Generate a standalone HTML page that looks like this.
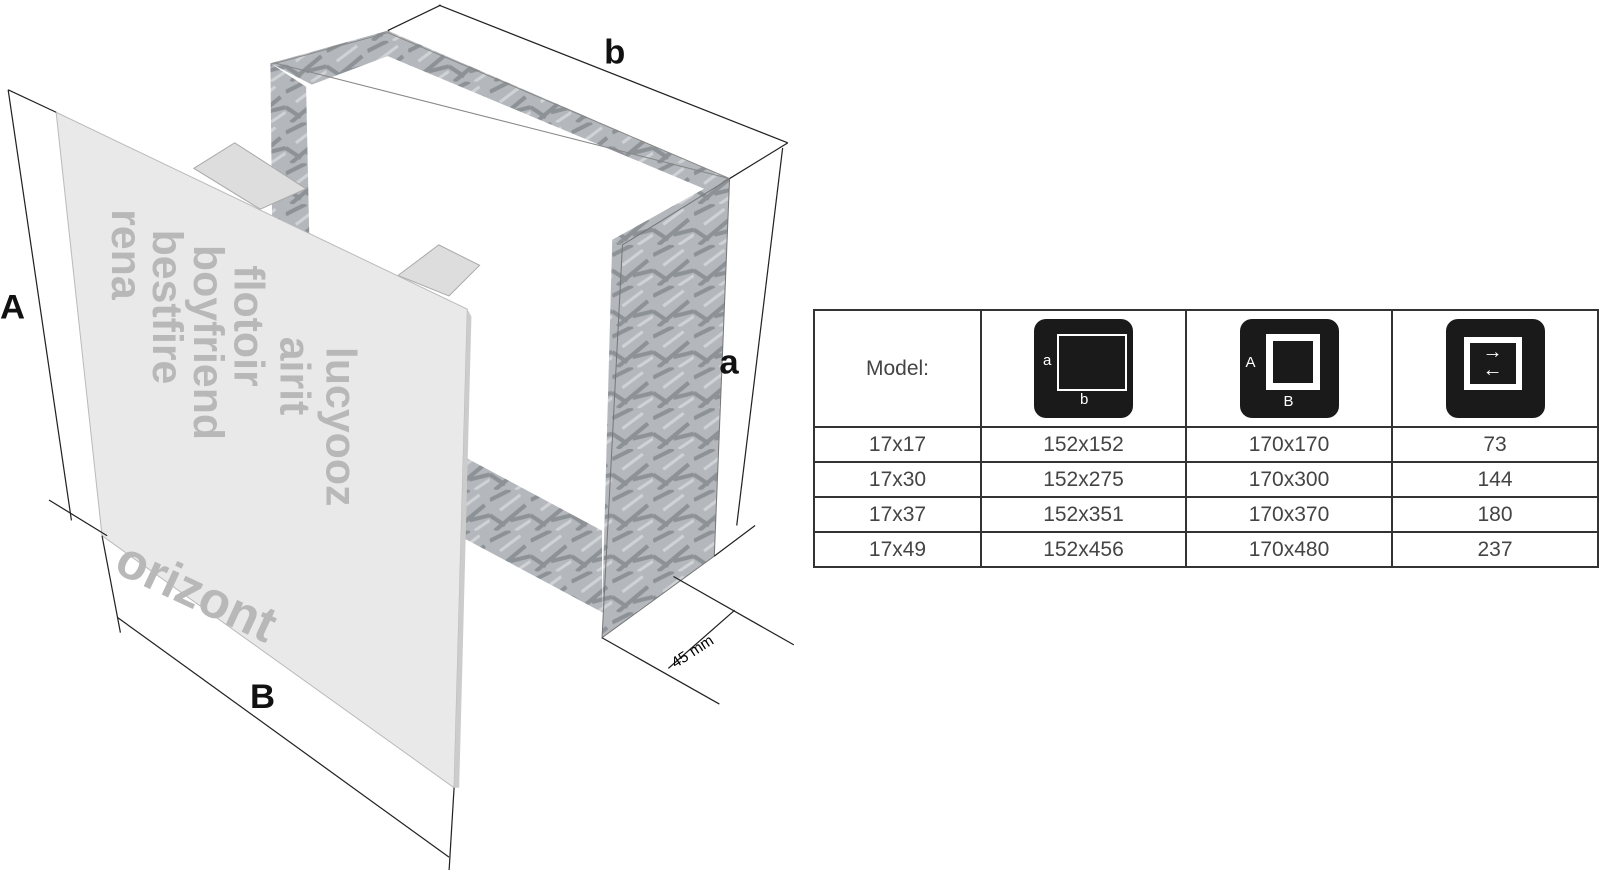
<!DOCTYPE html>
<html><head><meta charset="utf-8"><style>
body{margin:0;width:1600px;height:870px;background:#fff;overflow:hidden;font-family:"Liberation Sans",sans-serif}
svg{position:absolute;left:0;top:0}
table{position:absolute;left:813px;top:309px;border-collapse:collapse;width:786px}
td{border:2px solid #333;text-align:center;color:#444;font-size:21px;padding:0;height:33px}
.ic{width:99px;height:99px;background:#1a1a1a;border-radius:12px;margin:auto;position:relative}
</style></head><body>
<svg width="1600" height="870">
<defs><pattern id="g" width="40" height="40" patternUnits="userSpaceOnUse"><rect width="40" height="40" fill="#b4b8bc"/><path d="M0 10L20 0M5 40L35 15M20 30L40 25M0 25L15 35" stroke="#8d9297" stroke-width="4"/><path d="M10 20L30 5M25 40L40 30" stroke="#d0d3d6" stroke-width="3"/></pattern></defs>
<g transform="scale(1.0204)">
<polygon points="265,62 380,30 715,175 610,240" fill="url(#g)"/>
<polygon points="300,85 380,55 690,185 600,235" fill="#fff"/>
<polygon points="265,62 300,85 310,560 270,540" fill="url(#g)"/>
<polygon points="600,235 610,240 600,600 590,600" fill="url(#g)"/>
<polygon points="450,445 590,520 590,600 450,525" fill="url(#g)"/>
<polygon points="610,240 715,175 700,545 590,625" fill="url(#g)" stroke="#777"/>
<polygon points="270,62 380,32 715,175" fill="none" stroke="#888"/>
<polygon points="190,165 230,140 300,185 255,205" fill="#ddd" stroke="#aaa"/>
<polygon points="390,270 430,240 470,260 440,290" fill="#ddd" stroke="#aaa"/>
<polygon points="55,110 458,303 445,772 100,525" fill="#e9e9e9" stroke="#bbb"/>
<polygon points="458,303 462,310 450,772 445,772" fill="#ccc"/>
<g fill="#b8b8b8" font-weight="bold" font-family="Liberation Sans" font-size="42">
<text transform="translate(110,205) rotate(90)">rena</text>
<text transform="translate(150,225) rotate(90)">bestfire</text>
<text transform="translate(190,240) rotate(90)">boyfriend</text>
<text transform="translate(230,260) rotate(90)">flotoir</text>
<text transform="translate(275,330) rotate(90)">airit</text>
<text transform="translate(320,340) rotate(90)">lucyooz</text>
<text transform="translate(110,560) rotate(25)" font-size="50">orizont</text>
</g>
<g stroke="#222" stroke-width="1.2" fill="none">
<line x1="8" y1="88" x2="70" y2="510"/><line x1="8" y1="88" x2="55" y2="110"/><line x1="48" y1="490" x2="105" y2="525"/>
<line x1="430" y1="5" x2="772" y2="140"/><line x1="380" y1="30" x2="432" y2="5"/><line x1="715" y1="175" x2="772" y2="140"/>
<line x1="767" y1="145" x2="722" y2="515"/><line x1="700" y1="545" x2="740" y2="515"/>
<line x1="115" y1="605" x2="440" y2="840"/><line x1="100" y1="525" x2="118" y2="620"/><line x1="445" y1="772" x2="440" y2="855"/>
<line x1="660" y1="565" x2="778" y2="632"/><line x1="590" y1="625" x2="705" y2="690"/><line x1="655" y1="655" x2="720" y2="598"/>
</g>
<g font-weight="bold" font-size="34" fill="#111">
<text x="0" y="312">A</text><text x="592" y="62">b</text><text x="705" y="366">a</text><text x="245" y="694">B</text>
</g>
<text transform="translate(662,655) rotate(-33)" font-size="15">45 mm</text>
</g>
</svg>
<table>
<tr style="height:117px"><td style="width:165px">Model:</td>
<td style="width:203px"><div class="ic"><div style="position:absolute;left:23px;top:15px;width:66px;height:53px;border:2px solid #fff"></div><span style="position:absolute;left:9px;top:33px;color:#fff;font-size:15px">a</span><span style="position:absolute;left:46px;top:72px;color:#fff;font-size:15px">b</span></div></td>
<td style="width:204px"><div class="ic"><div style="position:absolute;left:26px;top:15px;border:7px solid #fff;width:40px;height:42px"></div><span style="position:absolute;left:6px;top:35px;color:#fff;font-size:15px">A</span><span style="position:absolute;left:44px;top:74px;color:#fff;font-size:15px">B</span></div></td>
<td><div class="ic"><div style="position:absolute;left:18px;top:18px;width:46px;height:41px;border:6px solid #fff;color:#fff;font-size:20px;line-height:18px">→<br>←</div></div></td></tr>
<tr><td>17x17</td><td>152x152</td><td>170x170</td><td>73</td></tr>
<tr><td>17x30</td><td>152x275</td><td>170x300</td><td>144</td></tr>
<tr><td>17x37</td><td>152x351</td><td>170x370</td><td>180</td></tr>
<tr><td>17x49</td><td>152x456</td><td>170x480</td><td>237</td></tr>
</table>
</body></html>
